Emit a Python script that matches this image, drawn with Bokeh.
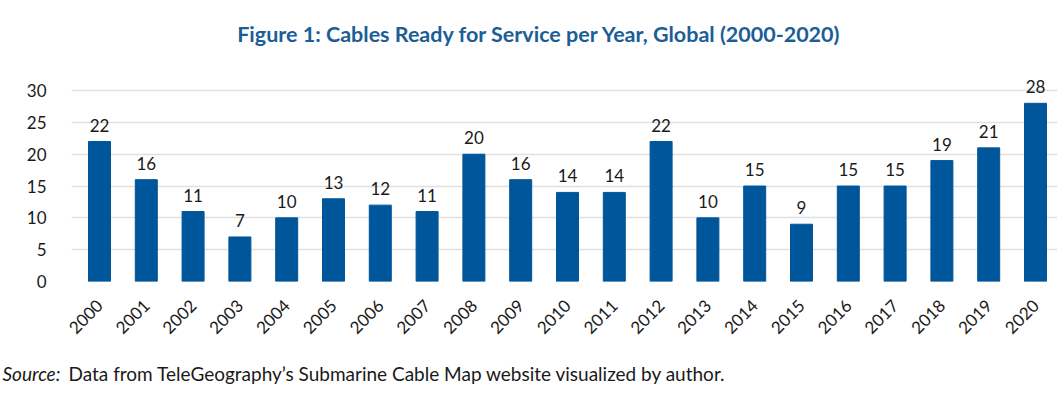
from bokeh.plotting import figure
from bokeh.models import Range1d, FixedTicker, ColumnDataSource
from bokeh.layouts import column
from bokeh.core.properties import value
from bokeh.embed import file_html
from bokeh.resources import INLINE
import math

years = ["2000", "2001", "2002", "2003", "2004", "2005", "2006", "2007", "2008", "2009", "2010",
         "2011", "2012", "2013", "2014", "2015", "2016", "2017", "2018", "2019", "2020"]
cables = [22, 16, 11, 7, 10, 13, 12, 11, 20, 16, 14, 14, 22, 10, 15, 9, 15, 15, 19, 21, 28]
y_ticks = [0, 5, 10, 15, 20, 25, 30]

title_text = "Figure 1: Cables Ready for Service per Year, Global (2000-2020)"
source_label = "Source:"
source_text = "Data from TeleGeography\u2019s Submarine Cable Map website visualized by author."

FONT = "Lato"
BAR = "#00569a"
TXT = "#1a1a1a"
W = 1060


def text_panel(h):
    f = figure(width=W, height=h, output_backend="svg", toolbar_location=None,
               x_range=Range1d(0, W), y_range=Range1d(h, 0),
               min_border_left=0, min_border_right=0, min_border_top=0, min_border_bottom=0,
               x_axis_type=None, y_axis_type=None, frame_align=False)
    f.outline_line_color = None
    f.xgrid.grid_line_color = None
    f.ygrid.grid_line_color = None
    return f


# title strip
pt = text_panel(71)
pt.text(x=[539], y=[33], text=[title_text], text_align="center", text_baseline="middle",
        text_font=value(FONT), text_font_style="bold", text_font_size="21.5px",
        text_color="#1b5e97")

# main chart
idx = list(range(len(years)))
src = ColumnDataSource(data=dict(x=idx, y=cables, lbl=[str(v) for v in cables]))

p = figure(width=W, height=285, output_backend="svg", toolbar_location=None,
           x_range=Range1d(-0.598, 20.47), y_range=Range1d(0, 33),
           min_border_left=71, min_border_right=3, min_border_top=0, min_border_bottom=75)
p.outline_line_color = None
p.background_fill_color = "white"

p.vbar(x="x", top="y", width=0.47, source=src, color=BAR)
p.text(x="x", y="y", text="lbl", source=src, text_align="center", text_baseline="bottom",
       y_offset=-10, text_font=value(FONT), text_font_size="17px", text_color=TXT)

p.xgrid.grid_line_color = None
p.ygrid.grid_line_color = "#e0e0e0"
p.ygrid.grid_line_width = 1.5
p.yaxis.ticker = FixedTicker(ticks=y_ticks)
p.xaxis.ticker = FixedTicker(ticks=idx)
p.xaxis.major_label_overrides = {i: y for i, y in enumerate(years)}
p.xaxis.major_label_orientation = math.pi / 4

for ax in (p.xaxis[0], p.yaxis[0]):
    ax.axis_line_color = None
    ax.major_tick_line_color = None
    ax.minor_tick_line_color = None
    ax.major_label_text_font = FONT
    ax.major_label_text_font_size = "17px"
    ax.major_label_text_color = TXT
p.yaxis.major_label_standoff = 19
p.xaxis.major_label_standoff = 15

# source strip
ps = text_panel(40)
ps.text(x=[2], y=[17], text=[source_label], text_baseline="middle",
        text_font=value(FONT), text_font_style="italic", text_font_size="19px", text_color=TXT)
ps.text(x=[68], y=[17], text=[source_text], text_baseline="middle",
        text_font=value(FONT), text_font_size="19px", text_color=TXT)

layout = column(pt, p, ps, spacing=0)
open("out.html", "w").write(file_html(layout, INLINE))
